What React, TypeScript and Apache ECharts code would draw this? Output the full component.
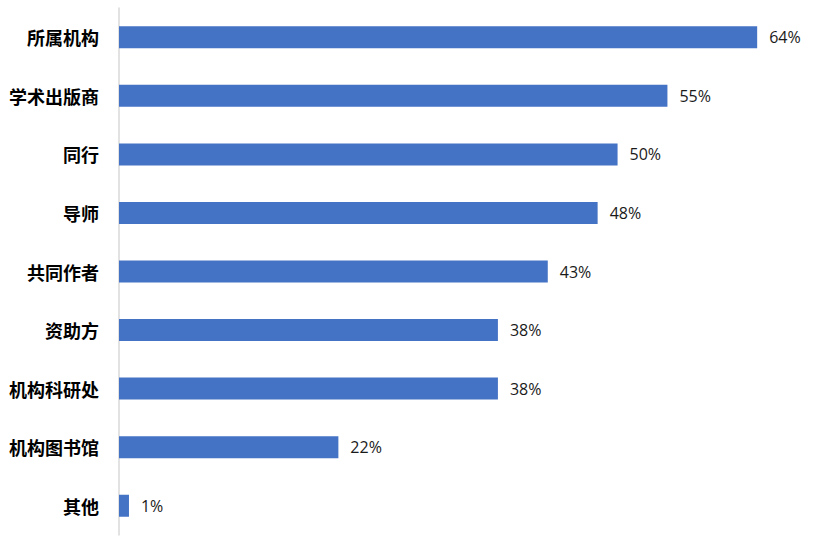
import React, { useEffect, useRef } from "react";
import * as echarts from "echarts";

const categories = ["所属机构", "学术出版商", "同行", "导师", "共同作者", "资助方", "机构科研处", "机构图书馆", "其他"];
const values = [64, 55, 50, 48, 43, 38, 38, 22, 1];

export default function App() {
  const ref = useRef<HTMLDivElement>(null);
  useEffect(() => {
    document.body.style.margin = "0";
    const chart = echarts.init(ref.current!, null, { renderer: "svg" });
    chart.setOption({
      animation: false,
      backgroundColor: "#ffffff",
      grid: { left: 119, top: 8, width: 698, height: 527, containLabel: false },
      xAxis: {
        type: "value",
        min: 0,
        max: 70,
        show: false,
        splitLine: { show: false },
      },
      yAxis: {
        type: "category",
        inverse: true,
        data: categories,
        axisLine: { show: true, lineStyle: { color: "#d9d9d9", width: 1.5 } },
        axisTick: { show: false },
        axisLabel: {
          margin: 20,
          color: "#000000",
          fontSize: 18,
          fontWeight: "bold",
          fontFamily: "Noto Sans CJK SC",
        },
      },
      series: [
        {
          type: "bar",
          data: values,
          barWidth: 22,
          itemStyle: { color: "#4472C4" },
          label: {
            show: true,
            position: "right",
            distance: 12,
            formatter: "{c}%",
            color: "#1a1a1a",
            fontSize: 16,
            fontFamily: "Open Sans",
          },
        },
      ],
    });
    return () => chart.dispose();
  }, []);
  return <div ref={ref} style={{ width: 817, height: 545 }} />;
}
